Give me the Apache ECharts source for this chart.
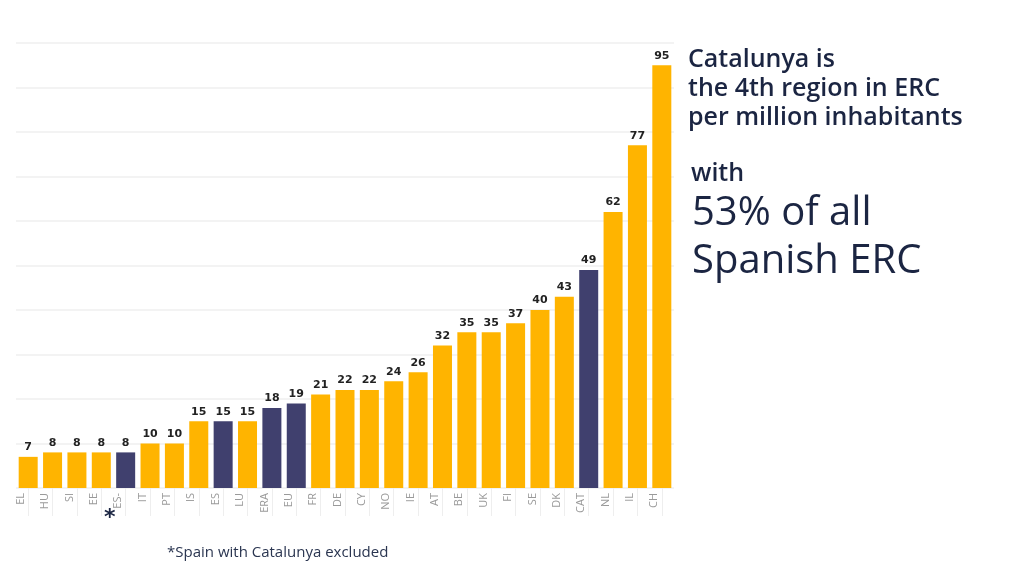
<!DOCTYPE html>
<html>
<head>
<meta charset="utf-8">
<script src="https://cdn.jsdelivr.net/npm/echarts@6/dist/echarts.min.js"></script>
<style>
html,body{margin:0;padding:0;background:#fff;}
#c{width:1024px;height:576px;}
</style>
</head>
<body>
<div id="c"></div>
<script>
const categories = ['EL','HU','SI','EE','ES-','IT','PT','IS','ES','LU','ERA','EU','FR','DE','CY','NO','IE','AT','BE','UK','FI','SE','DK','CAT','NL','IL','CH'];
const values = [7,8,8,8,8,10,10,15,15,15,18,19,21,22,22,24,26,32,35,35,37,40,43,49,62,77,95];
const highlighted = ['ES-','ES','ERA','EU','CAT'];
const yTicks = {min:0, max:100, interval:10};
const headline = ['Catalunya is','the 4th region in ERC','per million inhabitants'];
const subline = 'with';
const bigLines = ['53% of all','Spanish ERC'];
const footnote = '*Spain with Catalunya excluded';

const ORANGE = '#FFB400';
const NAVY = '#40406E';
const TEXT = '#1B2542';

const barData = categories.map((c,i)=>({
  value: values[i],
  itemStyle: {color: highlighted.includes(c) ? NAVY : ORANGE}
}));

const chart = echarts.init(document.getElementById('c'));
const graphics = [];
headline.forEach((t,i)=>{
  graphics.push({type:'text', left:688, top: 47 + i*29,
    style:{text:t, fill:TEXT, font:'600 25px "Open Sans", sans-serif'}});
});
graphics.push({type:'text', left:691, top:161, style:{text:subline, fill:TEXT, font:'600 25px "Open Sans", sans-serif'}});
bigLines.forEach((t,i)=>{
  graphics.push({type:'text', left:692, top: 194 + i*48,
    style:{text:t, fill:TEXT, font:'40px "Open Sans", sans-serif'}});
});
graphics.push({type:'text', left:104, top:507, style:{text:'*', fill:'#1B2542', font:'bold 22px "DejaVu Sans", sans-serif'}});
graphics.push({type:'text', left:167, top:545, style:{text:footnote, fill:'#2a3550', font:'15px "Open Sans", sans-serif'}});

chart.setOption({
  animation:false,
  backgroundColor:'#fff',
  grid:{left:16, right:350, top:43, bottom:88, containLabel:false},
  xAxis:{
    type:'category',
    data:categories,
    axisLine:{show:false},
    axisTick:{show:true, alignWithLabel:true, interval:0, length:28, lineStyle:{color:'#eeeeee', width:1}},
    axisLabel:{rotate:90, interval:0, showMinLabel:true, showMaxLabel:true, hideOverlap:false,
      color:'#9a9a9a', fontSize:11, fontFamily:'"Open Sans", sans-serif', margin:5, lineHeight:15,
      formatter:(v)=> v + '\n'}
  },
  yAxis:{
    type:'value',
    min:yTicks.min, max:yTicks.max, interval:yTicks.interval,
    axisLabel:{show:false},
    axisLine:{show:false},
    axisTick:{show:false},
    splitLine:{lineStyle:{color:'#efefef', width:1.5}}
  },
  series:[{
    type:'bar',
    data:barData,
    barWidth:'78%',
    label:{show:true, position:'top', distance:4, color:'#222', fontWeight:'bold', fontSize:11, fontFamily:'"DejaVu Sans", Verdana, sans-serif'}
  }],
  graphic:graphics
});
</script>
</body>
</html>
